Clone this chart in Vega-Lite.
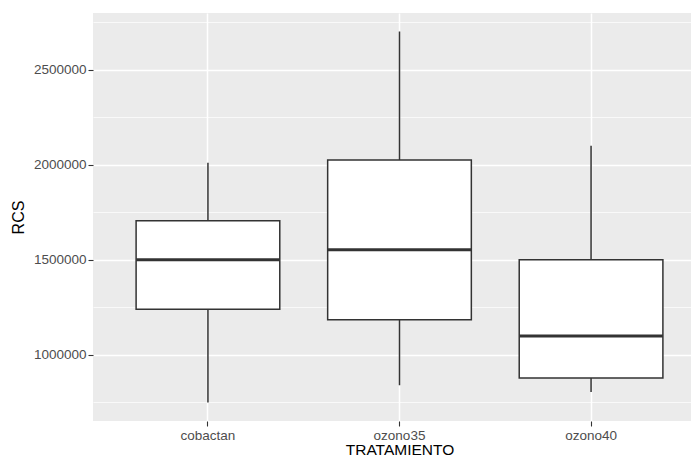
{
  "$schema": "https://vega.github.io/schema/vega-lite/v6.json",
  "autosize": "none",
  "width": 598,
  "height": 408,
  "padding": {"left": 93, "top": 13, "right": 0, "bottom": 36},
  "background": "white",
  "config": {
    "view": {"fill": "#EBEBEB", "stroke": null},
    "font": "Liberation Sans"
  },
  "data": {
    "values": [
      {"TRATAMIENTO": "cobactan", "lower": 750000, "q1": 1240000, "median": 1500000, "q3": 1705000, "upper": 2010000},
      {"TRATAMIENTO": "ozono35", "lower": 840000, "q1": 1185000, "median": 1553000, "q3": 2025000, "upper": 2700000},
      {"TRATAMIENTO": "ozono40", "lower": 805000, "q1": 878000, "median": 1100000, "q3": 1500000, "upper": 2100000}
    ]
  },
  "encoding": {
    "x": {
      "field": "TRATAMIENTO",
      "type": "nominal",
      "scale": {"type": "band", "paddingInner": 0, "paddingOuter": 0.1, "range": [0, 613]},
      "axis": {
        "labelAngle": 0,
        "labelFontSize": 13.5,
        "labelColor": "#4D4D4D",
        "labelPadding": 2,
        "tickColor": "#333333",
        "tickSize": 5,
        "tickWidth": 1.1,
        "bandPosition": 0.5,
        "domain": false,
        "grid": true,
        "gridColor": "#FFFFFF",
        "gridWidth": 1.5,
        "title": "TRATAMIENTO",
        "titleFontSize": 15.5,
        "titleFontWeight": "normal",
        "titleColor": "#000000",
        "titlePadding": 1
      }
    }
  },
  "layer": [
    {
      "mark": {"type": "rule", "color": "#333333", "strokeWidth": 1.5},
      "encoding": {
        "y": {
          "field": "lower",
          "type": "quantitative",
          "scale": {"domain": [652500, 2797500], "nice": false, "zero": false},
          "axis": {
            "values": [1000000, 1500000, 2000000, 2500000],
            "format": "d",
            "labelFontSize": 13.5,
            "labelColor": "#4D4D4D",
            "labelPadding": 2,
            "tickColor": "#333333",
            "tickSize": 5,
            "tickWidth": 1.1,
            "domain": false,
            "grid": true,
            "gridColor": "#FFFFFF",
            "gridWidth": 1.5,
            "title": "RCS",
            "titleFontSize": 16,
            "titleFontWeight": "normal",
            "titleColor": "#000000",
            "titlePadding": 7
          }
        },
        "y2": {"field": "upper"}
      }
    },
    {
      "mark": {"type": "bar", "fill": "#FFFFFF", "stroke": "#333333", "strokeWidth": 1.5, "width": {"band": 0.75}},
      "encoding": {
        "y": {
          "field": "q1",
          "type": "quantitative",
          "axis": {
            "orient": "left",
            "values": [750000, 1250000, 1750000, 2250000, 2750000],
            "labels": false,
            "ticks": false,
            "domain": false,
            "title": null,
            "grid": true,
            "gridColor": "#FFFFFF",
            "gridWidth": 0.7
          }
        },
        "y2": {"field": "q3"}
      }
    },
    {
      "mark": {"type": "tick", "color": "#333333", "thickness": 3, "size": 143.6, "opacity": 1},
      "encoding": {
        "y": {"field": "median", "type": "quantitative", "axis": null}
      }
    }
  ],
  "resolve": {"axis": {"y": "independent"}}
}
